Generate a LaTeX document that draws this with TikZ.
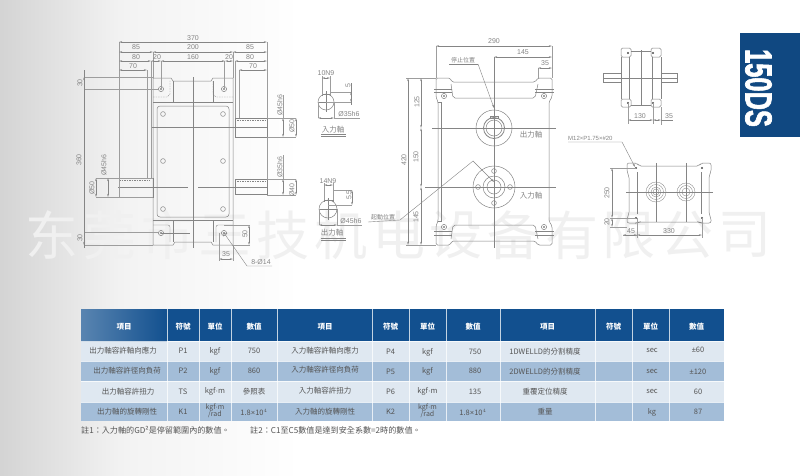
\documentclass[tikz,border=0pt]{standalone}
\usepackage{fontspec}
\usetikzlibrary{arrows.meta}
\setmainfont{Liberation Sans}
\newfontfamily\cjk{Noto Sans CJK TC}
\newfontfamily\cjksc{Noto Sans CJK SC}
\newfontfamily\heavy[BoldFeatures={FakeBold=2}]{Liberation Sans}
\definecolor{ln}{HTML}{858585}
\definecolor{txt}{HTML}{858585}
\definecolor{hdr}{HTML}{12508F}
\definecolor{rowa}{HTML}{DFE8F1}
\definecolor{rowb}{HTML}{A3BDD8}
\definecolor{cell}{HTML}{555555}
\newcommand{\ld}{{\rmfamily ·}}
\newcommand{\lx}{{\rmfamily ×}}
\newcommand{\lp}{{\rmfamily ±}}
\tikzset{
 part/.style={draw=ln,line width=.5pt},
 thin part/.style={draw=ln,line width=.35pt},
 hid/.style={draw=ln,line width=.35pt,dash pattern=on 1.5pt off 1pt},
 ext/.style={draw=ln!80,line width=.35pt},
 dimln/.style={draw=ln,line width=.4pt,{Stealth[length=3.2pt,width=1.6pt]}-{Stealth[length=3.2pt,width=1.6pt]}},
 lead/.style={draw=ln,line width=.4pt,-{Stealth[length=3.5pt,width=1.8pt]}},
 dimtxt/.style={text=txt,font=\fontsize{7}{8}\selectfont,inner sep=0pt},
 axtxt/.style={text=txt,font=\cjk\fontsize{7.5}{9}\selectfont,inner sep=0pt},
 smalltxt/.style={text=ln,font=\cjk\fontsize{6}{7}\selectfont,inner sep=0pt},
 wm/.style={text=black!6,font=\cjksc\fontsize{53}{56}\selectfont,inner sep=0pt},
 th/.style={text=white,font=\cjk\bfseries\fontsize{7.5}{9}\selectfont,inner sep=0pt},
 td/.style={text=cell,font=\cjk\fontsize{7.5}{9}\selectfont,inner sep=0pt,align=center},
 note/.style={text=cell,font=\cjk\fontsize{8.1}{9}\selectfont,inner sep=0pt,anchor=west},
}
\newcommand{\dmh}[3]{\draw[dimln] (#1,#3) -- (#2,#3);}
\newcommand{\dmv}[3]{\draw[dimln] (#3,#1) -- (#3,#2);}
\newcommand{\lb}[3]{\node[dimtxt] at (#1,#2) {#3};}
\newcommand{\lbr}[3]{\node[dimtxt,rotate=90] at (#1,#2) {#3};}
\newcommand{\bolt}[2]{\draw[part] (#1,#2) circle [radius=2.6]; \fill[ln] (#1,#2) circle [radius=1.1];}
\newcommand{\hole}[2]{\draw[part] (#1,#2) circle [radius=2.4];}
\newcommand{\minibolt}[2]{\fill[black!70] (#1,#2) circle [radius=1.1];}
\begin{document}
\begin{tikzpicture}[x=1pt,y=-1pt]
\useasboundingbox (0,0) rectangle (800,475);
% background
\fill[white] (0,0) rectangle (800,475);
\shade[left color=black!17,right color=black!5] (0,0) rectangle (120,475);
\shade[left color=black!5,right color=white] (120,0) rectangle (300,475);
% watermark
\foreach \c [count=\i from 0] in {东,莞,市,三,技,机,电,设,备,有,限,公,司}
  \node[wm] (wm\i) at ({52.3+57.7*\i},235) {\c};

% ---------- left view ----------
\draw[part] (153,78)--(171,78)--(173,81)--(211,81)--(213,78)--(233,78)--(233,245)--(213,245)--(211,242)--(175,242)--(173,245)--(153,245)--cycle;
\draw[part] (173,81)--(173,102) (213,81)--(213,102) (153,102)--(233,102);
\draw[part] (173,220)--(173,242) (213,220)--(213,242) (153,220)--(233,220);
\draw[part,rounded corners=3pt] (157,106) rectangle (229,217);
\draw[hid] (153,97)--(167,97)--(170,94)--(170,80);
\draw[hid] (233,97)--(216,97)--(213,94)--(213,80);
\draw[thin part,rounded corners=2pt] (153,225)--(170,225)--(170,242);
\draw[thin part,rounded corners=2pt] (233,225)--(216,225)--(216,242);
\bolt{161}{89}\bolt{224}{89}\bolt{161}{233}\bolt{224}{233}
\hole{163}{114}\hole{223}{114}\hole{163}{161}\hole{223}{161}\hole{163}{209}\hole{223}{209}
\draw[thin part] (193,77)--(193,248) (151,127)--(268,127) (118,187)--(188,187) (198,187)--(268,187);
\draw[part] (235,118) rectangle (267,137);
\draw[hid] (237,120)--(267,120);
\draw[part] (235,179) rectangle (267,194);
\draw[hid] (237,181)--(267,181);
\draw[part] (119,178) rectangle (153,197);
\draw[hid] (119,180)--(150,180);
\draw[ext] (119,42)--(119,197) (267,42)--(267,118) (267,137)--(267,179);
\draw[ext] (153,52)--(153,78) (151,61)--(151,178) (147,70)--(147,178);
\draw[ext] (161,61)--(161,89) (224,61)--(224,89) (233,52)--(233,78) (235,61)--(235,118) (239,70)--(239,118);
\dmh{119}{267}{42}\lb{193}{38}{370}
\dmh{119}{153}{52}\lb{136}{47}{85}
\dmh{153}{233}{52}\lb{193}{47}{200}
\dmh{233}{267}{52}\lb{250}{47}{85}
\dmh{119}{151}{61}\lb{136}{57}{80}
\dmh{151}{161}{61}\lb{157}{57}{20}
\dmh{161}{225}{61}\lb{193}{57}{160}
\dmh{225}{233}{61}\lb{229}{57}{20}
\dmh{235}{267}{61}\lb{250}{57}{80}
\dmh{119}{147}{70}\lb{133}{66}{70}
\dmh{239}{267}{70}\lb{253}{66}{70}
\draw[ext] (84,77)--(153,77) (84,89)--(158,89) (84,232)--(158,232) (84,245)--(153,245);
\dmv{77}{245}{84}
\draw[ln,line width=.4pt] (84,232)--(84,248) (84,70)--(84,89);
\lbr{80}{83}{30}\lbr{79}{160}{360}\lbr{80}{238}{30}
\draw[ext] (96,178)--(153,178) (96,197)--(153,197);
\dmv{178}{197}{96}\dmv{178}{197}{108}
\lbr{92}{188}{Ø50}\lbr{104}{165}{Ø45h6}
\dmv{118}{137}{283}\dmv{118}{137}{296}
\draw[ext] (267,118)--(296,118) (267,137)--(296,137) (267,179)--(296,179) (267,195)--(296,195) (283,95)--(283,118) (283,155)--(283,179);
\lbr{280}{105}{Ø45h6}\lbr{292}{126}{Ø50}
\dmv{179}{195}{283}\dmv{179}{195}{296}
\lbr{280}{167}{Ø35h6}\lbr{292}{190}{Ø40}
% foot dims
\draw[thin part] (161,233)--(190,233);
\dmv{225}{245}{249}\lbr{245}{234}{50}
\draw[ext] (224,225)--(250,225) (233,245)--(250,245);
\dmh{219}{233}{259}\lb{226}{254.5}{35}
\draw[ext] (219,233)--(219,261) (233,245)--(233,261);
\draw[lead,<-] (224,233) -- (247,266) -- (272,266);
\lb{261}{262}{8-Ø14}

% ---------- key sections ----------
\draw[part] (326,102) circle [radius=8];
\draw[part] (322,96)--(322,94.5)--(330,94.5)--(330,96);
\draw[thin part] (318,102)--(334,102) (326,91)--(326,112);
\draw[ext] (322,76)--(322,95) (330,76)--(330,95) (330,92)--(351,92) (326,102)--(351,102) (318,102)--(318,118) (334,102)--(334,118);
\dmh{322}{330}{78}\lb{326}{73}{10N9}
\dmv{92}{102}{351}\draw[ln,line width=.4pt] (351,83)--(351,105);
\lbr{348}{86}{5}
\dmh{318}{334}{118}\draw[ext] (334,118)--(360,118);\lb{349}{114}{Ø35h6}
\node[axtxt] (inaxis) at (333,130) {入力軸};
\draw[part] (321,134.5)--(346,134.5) (321,136.5)--(346,136.5);

\draw[part] (328,209) circle [radius=9];
\draw[part] (324,201.5)--(324,200)--(333,200)--(333,201.5);
\draw[thin part] (319,209)--(337,209) (328,198)--(328,220);
\draw[ext] (324,183)--(324,200) (333,183)--(333,200) (333,190)--(352,190) (328,205)--(352,205) (319,209)--(319,225) (337,209)--(337,225);
\dmh{324}{333}{185}\lb{328}{181}{14N9}
\dmv{190}{205}{352}\lbr{349}{195}{5.5}
\dmh{319}{337}{225}\draw[ext] (337,225)--(362,225);\lb{351}{221}{Ø45h6}
\node[axtxt] (outaxis) at (332,233) {出力軸};
\draw[part] (321,238)--(346,238) (321,240)--(346,240);

% ---------- centre view ----------
\draw[part,rounded corners=1.5pt] (436,78)--(450,78)--(452,82)--(535,82)--(538,78)--(552,78)--(552,97)--(549,102)--(549,221)--(552,226)--(552,245)--(538,245)--(535,241)--(452,241)--(450,245)--(436,245)--(436,226)--(438,221)--(438,102)--(436,97)--cycle;
\draw[part,rounded corners=2pt] (451,84)--(453,98)--(535,98)--(538,84);
\draw[part,rounded corners=2pt] (451,239)--(453,225)--(535,225)--(538,239);
\draw[thin part] (441,102)--(441,221)--(438,221) (438,102)--(441,102);
\draw[thin part] (434,89)--(452,89) (434,92)--(452,92) (535,89)--(554,89) (535,92)--(554,92);
\draw[thin part] (434,231)--(452,231) (434,235)--(452,235) (535,231)--(554,231) (535,235)--(554,235);
\bolt{444}{96}\bolt{544}{96}\bolt{444}{227}\bolt{544}{227}
\draw[thin part] (494,57)--(494,248) (432,128)--(556,128) (425,187)--(556,187);
\draw[part] (494,128) circle [radius=18];
\draw[part,line width=.8pt] (494,128) circle [radius=10.5];
\draw[part] (494,128) circle [radius=8];
\draw[part] (490,118.5) rectangle (498,116);
\draw[part] (494,187) circle [radius=21];
\draw[part] (494,187) circle [radius=11];
\draw[part] (494,187) circle [radius=7];
\foreach \dx/\dy in {0/-16,0/16,-16/0,16/0}
  \draw[part] (494+\dx,187+\dy) circle [radius=2.4];
\node[axtxt] (outlbl) at (531,135) {出力軸};
\node[axtxt] (inlbl) at (531,196) {入力軸};
\draw[ext] (436,46)--(436,78) (552,46)--(552,78) (538,68)--(538,78);
\dmh{436}{552}{46}\lb{494}{41}{290}
\dmh{494}{552}{57}\lb{523}{52}{145}
\dmh{538}{552}{68}\lb{545}{63}{35}
\draw[ext] (406,78)--(436,78) (406,245)--(436,245);
\dmv{78}{245}{408}\lbr{404}{160}{420}
\dmv{78}{128}{421}\dmv{128}{187}{421}\dmv{187}{245}{421}
\lbr{417}{102}{125}\lbr{416}{157}{150}\lbr{416}{217}{145}
\node[smalltxt] (stop) at (463,60) {停止位置};
\draw[ln,line width=.4pt] (449,64)--(478,64);
\draw[lead] (478,64)--(494,108);
\node[smalltxt] (start) at (383,217) {起動位置};
\draw[lead] (368,222)--(400,220)--(473,161)--(494,182);

% ---------- top right view ----------
\draw[part,rounded corners=1.5pt] (621,48) rectangle (631,57);
\draw[part,rounded corners=1.5pt] (651,48) rectangle (661,57);
\draw[part,rounded corners=1.5pt] (621,99) rectangle (631,107);
\draw[part,rounded corners=1.5pt] (651,99) rectangle (661,107);
\draw[part] (621,57)--(621,99) (661,57)--(661,99) (629,57)--(629,99) (652,57)--(652,99);
\draw[part] (631,51)--(651,51) (631,105)--(651,105);
\draw[part] (603,73) rectangle (621,82) (661,73) rectangle (677,82);
\draw[thin part] (641,50)--(641,105) (603,78)--(677,78);
\minibolt{628}{53}\minibolt{653}{53}\minibolt{628}{103}\minibolt{653}{103}
\draw[ext] (628,103)--(628,124) (653,103)--(653,124) (661,107)--(661,125);
\dmh{628}{653}{120}\dmh{653}{661}{120}
\draw[ln,line width=.4pt] (661,120)--(673,120);
\lb{640}{116}{130}\lb{669}{116}{35}

% ---------- badge ----------
\fill[hdr!90!black] (739.5,33) rectangle (800,137);
\node[text=white,rotate=-90,inner sep=0pt,font=\heavy\fontsize{37.5}{38}\bfseries\selectfont] (badge) at (758.5,88) {\scalebox{.68}[1]{150DS}};

% ---------- bottom right view ----------
\draw[part,rounded corners=2pt] (627,163)--(637,163)--(639,166)--(699,166)--(701,163)--(711,163)--(711,172)--(709,176)--(709,214)--(711,218)--(711,223)--(701,223)--(699,222)--(639,222)--(637,223)--(627,223)--(627,218)--(629,214)--(629,176)--(627,172)--cycle;
\draw[part] (637,172)--(637,214) (701,172)--(701,214);
\draw[thin part] (626,192)--(713,192) (656,163)--(656,222) (686,163)--(686,222);
\foreach \r in {10,7.5,5,3} \draw[thin part] (656,192) circle [radius=\r];
\foreach \r in {9,6.5,4} \draw[thin part] (686,192) circle [radius=\r];
\minibolt{636}{168}\minibolt{702}{168}\minibolt{636}{218}\minibolt{702}{218}
\node[smalltxt,text=txt,anchor=west,font=\fontsize{6}{7}\selectfont] (mlabel) at (568,138.5) {M12×P1.75×\#20};
\draw[lead] (568,142)--(622,142)--(635,167);
\draw[ext] (610,168)--(636,168) (610,218)--(636,218) (610,227)--(627,227);
\dmv{168}{218}{612}\dmv{218}{227}{612}
\lbr{607}{193}{250}\lbr{607}{222}{20}
\draw[ext] (637,218)--(637,238) (702,218)--(702,238) (623,235)--(637,235);
\dmh{637}{702}{235}\dmh{623}{637}{235}
\lb{631}{231}{45}\lb{669}{231}{330}

% ---------- table ----------
\fill[rowa] (81,341) rectangle (724,361);
\fill[rowb] (81,361) rectangle (724,381);
\fill[rowa] (81,381) rectangle (724,402);
\fill[rowb] (81,402) rectangle (724,421);
\fill[hdr] (81,309) rectangle (724,341);
\shade[left color=hdr!70,right color=hdr] (81,309) rectangle (167,341);
\foreach \x in {167,199,231,277,372,409,446,500,595,632,669}
  \draw[white,opacity=.75,line width=.6pt] (\x,309)--(\x,421);
\draw[white,opacity=.75,line width=.5pt] (81,341)--(724,341) (81,361)--(724,361) (81,381)--(724,381) (81,402)--(724,402);
\foreach \x/\t [count=\i] in {124/項目,183/符號,215/單位,254/數值,325/項目,390.5/符號,427.5/單位,473/數值,547.5/項目,613.5/符號,650.5/單位,696.5/數值}
  \node[th] (h\i) at (\x,326.5) {\t};
% row 1
\node[td] (a1) at (123,351) {出力軸容許軸向應力};
\node[td] (a2) at (183,351) {P1};
\node[td] (a3) at (215,351) {kgf};
\node[td] (a4) at (254,351) {750};
\node[td] (a5) at (325,351) {入力軸容許軸向應力};
\node[td] (a6) at (390.5,352) {P4};
\node[td] (a7) at (427.5,352) {kgf};
\node[td] (a8) at (475,352) {750};
\node[td] (a9) at (545,352) {1DWELLD的分割精度};
\node[td] (a11) at (652,350) {sec};
\node[td] (a12) at (698,350) {\lp60};
% row 2
\node[td] (b1) at (127,371) {出力軸容許徑向負荷};
\node[td] (b2) at (183,371) {P2};
\node[td] (b3) at (215,371) {kgf};
\node[td] (b4) at (254,371) {860};
\node[td] (b5) at (325,370) {入力軸容許徑向負荷};
\node[td] (b6) at (390.5,372) {P5};
\node[td] (b7) at (427.5,371) {kgf};
\node[td] (b8) at (475,371) {880};
\node[td] (b9) at (545,372) {2DWELLD的分割精度};
\node[td] (b11) at (652,371) {sec};
\node[td] (b12) at (698,372) {\lp120};
% row 3
\node[td] (c1) at (128,392) {出力軸容許扭力};
\node[td] (c2) at (183,392) {TS};
\node[td] (c3) at (215,391) {kgf\ld m};
\node[td] (c4) at (254,392) {參照表};
\node[td] (c5) at (325,391) {入力軸容許扭力};
\node[td] (c6) at (390.5,392) {P6};
\node[td] (c7) at (427.5,391) {kgf\ld m};
\node[td] (c8) at (475,392) {135};
\node[td] (c9) at (545,392) {重覆定位精度};
\node[td] (c11) at (652,391) {sec};
\node[td] (c12) at (698,392) {60};
% row 4
\node[td] (d1) at (127,412) {出力軸的旋轉剛性};
\node[td] (d2) at (183,412) {K1};
\node[td,font=\cjk\fontsize{7}{7.5}\selectfont] (d3) at (215,411) {kgf\ld m\\/rad};
\node[td] (d4) at (254,412) {1.8\lx10$^{\scriptscriptstyle 4}$};
\node[td] (d5) at (325,412) {入力軸的旋轉剛性};
\node[td] (d6) at (390.5,412) {K2};
\node[td,font=\cjk\fontsize{7}{7.5}\selectfont] (d7) at (427.5,411) {kgf\ld m\\/rad};
\node[td] (d8) at (473,412) {1.8\lx10$^{\scriptscriptstyle 4}$};
\node[td] (d9) at (545,412) {重量};
\node[td] (d11) at (652,412) {kg};
\node[td] (d12) at (698,412) {87};
\node[note] (n1) at (81,430) {註1：入力軸的GD²是停留範圍內的數值。};
\node[note] (n2) at (250,430) {註2：C1至C5數值是達到安全系數=2時的數值。};
\end{tikzpicture}
\end{document}
